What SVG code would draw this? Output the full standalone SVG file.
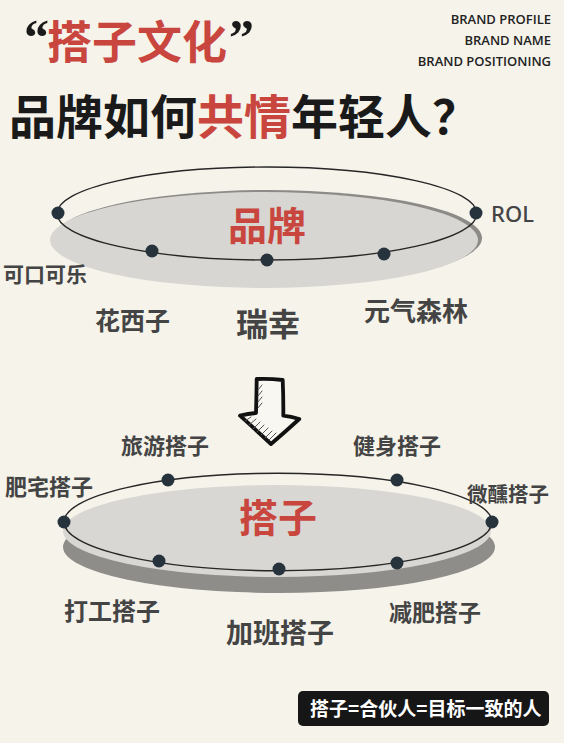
<svg xmlns="http://www.w3.org/2000/svg" width="564" height="743" viewBox="0 0 564 743">
<style>
.cjk{font-family:"Noto Sans CJK SC","Noto Sans",sans-serif;font-weight:bold}
.lbl{fill:#444444}
.red{fill:#c9463f}
.en{font-family:"Open Sans","Noto Sans",sans-serif;font-size:13px;fill:#222;text-anchor:end;font-weight:600}
.q{font-family:"Liberation Serif",serif;font-weight:bold;font-size:50px;fill:#1a1a1a}
.ring{fill:none;stroke:#262626;stroke-width:1.4}
.dot{fill:#26333d}
.hatch{stroke:#555;stroke-width:1;stroke-linecap:round}
</style>
<rect width="564" height="743" fill="#f5f3ea"/>

<g id="title">
<text class="q" x="24" y="54">“</text>
<text class="cjk red" x="47" y="59" font-size="45">搭子文化</text>
<text class="q" x="229" y="54">”</text>
</g>
<g id="brand-info">
<text class="en" x="551" y="24">BRAND PROFILE</text>
<text class="en" x="551" y="45">BRAND NAME</text>
<text class="en" x="551" y="66">BRAND POSITIONING</text>
</g>
<g id="headline">
<text class="cjk" x="9" y="134" font-size="47" fill="#1a1a1a">品牌如何<tspan class="red">共情</tspan>年轻人？</text>
</g>

<g id="brand-disc">
<ellipse cx="268" cy="238" rx="214" ry="48" fill="#8c8b88"/>
<ellipse cx="264" cy="240" rx="214" ry="48" fill="#d7d6d2"/>
<ellipse class="ring" cx="267" cy="213.5" rx="210" ry="46.5"/>
<text class="cjk red" x="267" y="240" font-size="39" text-anchor="middle">品牌</text>
</g>
<g id="brand-dots">
<circle class="dot" cx="58" cy="213" r="6.5"/>
<circle class="dot" cx="476" cy="213" r="6.5"/>
<circle class="dot" cx="152" cy="251" r="6.5"/>
<circle class="dot" cx="267" cy="260" r="6.5"/>
<circle class="dot" cx="384" cy="254" r="6.5"/>
</g>
<g id="brand-labels">
<text x="491" y="222" font-family="Noto Sans,Open Sans,sans-serif" font-size="22" font-weight="500" fill="#444">ROL</text>
<text class="cjk lbl" x="3" y="282" font-size="21">可口可乐</text>
<text class="cjk lbl" x="95" y="330" font-size="25">花西子</text>
<text class="cjk lbl" x="236" y="336" font-size="32">瑞幸</text>
<text class="cjk lbl" x="364" y="321" font-size="26">元气森林</text>
</g>

<g id="arrow">
<path d="M256.7 379 Q270 378.5 282.7 380 Q283.5 398 283.3 415.7 Q291 416.5 299.3 419 Q285 432 271 444 Q256 430 240 415.7 Q248 413.5 256 413 Q256.5 396 256.7 379 Z" fill="#f8f7f1" stroke="#111" stroke-width="3.8" stroke-linejoin="round"/>
<g class="hatch">
<line x1="258" y1="390" x2="262" y2="385"/>
<line x1="258" y1="396" x2="262" y2="391"/>
<line x1="258" y1="402" x2="262" y2="397"/>
<line x1="258" y1="408" x2="262" y2="403"/>
<line x1="245" y1="421" x2="251" y2="417"/>
<line x1="249" y1="425" x2="256" y2="419"/>
<line x1="253" y1="429" x2="260" y2="422"/>
<line x1="257" y1="432" x2="264" y2="425"/>
<line x1="261" y1="435" x2="268" y2="428"/>
<line x1="265" y1="438" x2="272" y2="431"/>
<line x1="269" y1="440" x2="276" y2="433"/>
</g>
</g>

<g id="dazi-disc">
<ellipse cx="279" cy="547" rx="216" ry="46" fill="#8e8d8a"/>
<ellipse cx="277" cy="531" rx="214" ry="46" fill="#d8d7d3"/>
<ellipse class="ring" cx="278" cy="522" rx="214" ry="48.7"/>
<text class="cjk red" x="278" y="532" font-size="39" text-anchor="middle">搭子</text>
</g>
<g id="dazi-dots">
<circle class="dot" cx="64" cy="522" r="6.5"/>
<circle class="dot" cx="492" cy="522" r="6.5"/>
<circle class="dot" cx="168" cy="480" r="6.5"/>
<circle class="dot" cx="397" cy="480" r="6.5"/>
<circle class="dot" cx="159" cy="561" r="6.5"/>
<circle class="dot" cx="279" cy="569" r="6.5"/>
<circle class="dot" cx="397" cy="563" r="6.5"/>
</g>
<g id="dazi-labels">
<text class="cjk lbl" x="121" y="454" font-size="22">旅游搭子</text>
<text class="cjk lbl" x="353" y="454" font-size="22">健身搭子</text>
<text class="cjk lbl" x="5" y="495" font-size="22">肥宅搭子</text>
<text class="cjk lbl" x="467" y="502" font-size="20.5">微醺搭子</text>
<text class="cjk lbl" x="64" y="620" font-size="24">打工搭子</text>
<text class="cjk lbl" x="226" y="643" font-size="27">加班搭子</text>
<text class="cjk lbl" x="389" y="621" font-size="23">减肥搭子</text>
</g>

<g id="definition">
<rect x="298" y="691" width="251" height="35" rx="5" fill="#161616"/>
<text class="cjk" x="310" y="716" font-size="19" fill="#ffffff" font-weight="500">搭子=合伙人=目标一致的人</text>
</g>
</svg>
